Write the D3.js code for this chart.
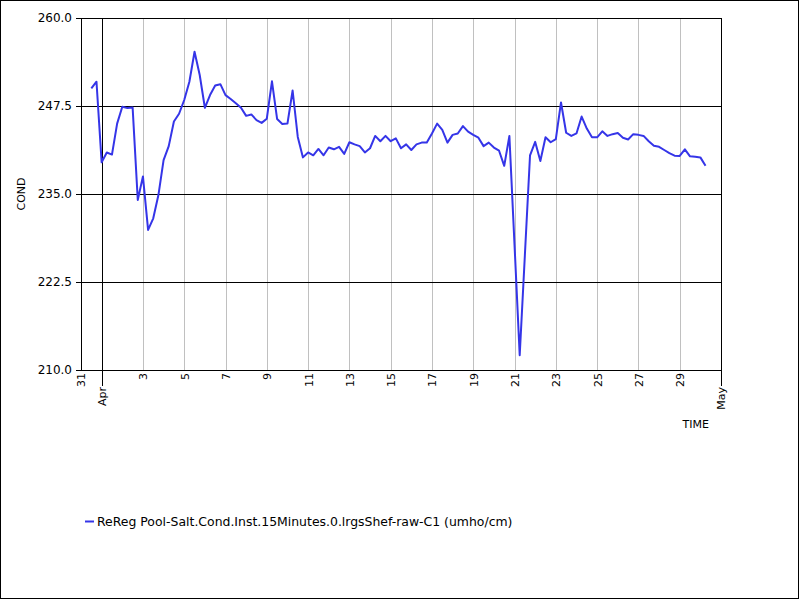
<!DOCTYPE html>
<html><head><meta charset="utf-8">
<script src="https://cdn.jsdelivr.net/npm/d3@7"></script>
<style>body{margin:0;background:#fff}svg{display:block}text{font-family:"DejaVu Sans",sans-serif;fill:#000}</style>
</head><body><svg id="c" width="800" height="600"></svg>
<script>
// 6-hourly readings starting 2024-03-31 12:00
const startTime = "2024-03-31T12:00:00Z";
const stepHours = 6;
const condValues = [
250.0,250.95,239.5,240.9,240.6,245.0,247.4,247.2,247.3,234.15,
237.5,229.9,231.55,234.85,239.8,241.8,245.3,246.4,248.35,250.95,
255.2,251.9,247.25,249.05,250.4,250.6,249.05,248.5,247.9,247.25,
246.1,246.3,245.5,245.1,245.7,251.0,245.65,244.95,245.0,249.7,
243.1,240.2,240.9,240.5,241.4,240.5,241.6,241.35,241.7,240.7,
242.35,242.05,241.8,240.9,241.5,243.25,242.5,243.25,242.5,242.9,
241.5,242.05,241.25,242.05,242.3,242.3,243.6,245.0,244.1,242.3,
243.4,243.6,244.65,243.85,243.4,243.0,241.8,242.3,241.6,241.15,
239.0,243.25,227.7,212.1,226.3,240.5,242.4,239.7,243.05,242.35,
242.8,248.0,243.7,243.25,243.6,246.0,244.3,243.05,243.05,243.9,
243.25,243.5,243.65,243.0,242.75,243.5,243.4,243.25,242.5,241.85,
241.7,241.25,240.8,240.45,240.4,241.35,240.35,240.3,240.2,239.0
];
const yTicks = [210.0, 222.5, 235.0, 247.5, 260.0];
const dayTickLabels = ["31","3","5","7","9","11","13","15","17","19","21","23","25","27","29"];
const dayTickDates = ["2024-03-31","2024-04-03","2024-04-05","2024-04-07","2024-04-09","2024-04-11","2024-04-13","2024-04-15","2024-04-17","2024-04-19","2024-04-21","2024-04-23","2024-04-25","2024-04-27","2024-04-29"];
const monthLabels = ["Apr","May"];
const monthDates = ["2024-04-01","2024-05-01"];
const xDomain = ["2024-03-31","2024-05-01"];
const yDomain = [210, 260];
const seriesName = "ReReg Pool-Salt.Cond.Inst.15Minutes.0.lrgsShef-raw-C1 (umho/cm)";
const yTitle = "COND", xTitle = "TIME";

const t0 = new Date(startTime);
const data = condValues.map((v,i)=>({t: d3.utcHour.offset(t0, i*stepHours), v}));
const P = d3.utcParse("%Y-%m-%d");

const svg = d3.select("#c");
const L=81, R=721, T=18, B=370;
const x = d3.scaleUtc().domain(xDomain.map(P)).range([L,R]);
const y = d3.scaleLinear().domain(yDomain).range([B,T]);

svg.append("rect").attr("x",0.5).attr("y",0.5).attr("width",798).attr("height",598)
  .attr("fill","#fff").attr("stroke","#000");

// vertical grid (gray) at day ticks
svg.append("g").selectAll("line").data(dayTickDates.slice(1)).join("line")
  .attr("x1",d=>Math.round(x(P(d)))+0.5).attr("x2",d=>Math.round(x(P(d)))+0.5)
  .attr("y1",T).attr("y2",B).attr("stroke","#c0c0c0").attr("stroke-width",1);
// horizontal grid (black)
svg.append("g").selectAll("line").data(yTicks).join("line")
  .attr("x1",L-5).attr("x2",R).attr("y1",d=>Math.round(y(d))+0.5).attr("y2",d=>Math.round(y(d))+0.5)
  .attr("stroke","#000");
// month lines
svg.append("g").selectAll("line").data(monthDates).join("line")
  .attr("x1",d=>Math.round(x(P(d)))+0.5).attr("x2",d=>Math.round(x(P(d)))+0.5)
  .attr("y1",T).attr("y2",B+16).attr("stroke","#000");
// plot border
svg.append("rect").attr("x",L+0.5).attr("y",T+0.5).attr("width",R-L).attr("height",B-T)
  .attr("fill","none").attr("stroke","#000");

// y tick labels
svg.append("g").selectAll("text").data(yTicks).join("text")
  .attr("x",72).attr("y",d=>y(d)).attr("dy","0.36em").attr("text-anchor","end")
  .style("font-size","12px").text(d=>d.toFixed(1));
// x day labels
svg.append("g").selectAll("text").data(dayTickDates).join("text")
  .attr("transform",d=>`translate(${x(P(d))+0.5},${B+3}) rotate(-90)`)
  .attr("dy","0.36em").attr("text-anchor","end").style("font-size","11px")
  .text((d,i)=>dayTickLabels[i]);
// month labels
svg.append("g").selectAll("text").data(monthDates).join("text")
  .attr("transform",d=>`translate(${x(P(d))+0.5},${B+17}) rotate(-90)`)
  .attr("dy","0.36em").attr("text-anchor","end").style("font-size","11px")
  .text((d,i)=>monthLabels[i]);

// axis titles
svg.append("text").attr("transform",`translate(25,${(T+B)/2}) rotate(-90)`)
  .attr("text-anchor","middle").style("font-size","11px").text(yTitle);
svg.append("text").attr("x",709).attr("y",428).attr("text-anchor","end")
  .style("font-size","11px").text(xTitle);

// series line
const line = d3.line().x(d=>x(d.t)).y(d=>y(d.v));
svg.append("path").datum(data).attr("d",line).attr("fill","none")
  .attr("stroke","#3535e8").attr("stroke-width",2).attr("stroke-linejoin","round");

// legend
svg.append("line").attr("x1",85).attr("x2",94).attr("y1",521.5).attr("y2",521.5)
  .attr("stroke","#3535e8").attr("stroke-width",2);
svg.append("text").attr("x",97).attr("y",526).style("font-size","12.45px").text(seriesName);
</script></body></html>
